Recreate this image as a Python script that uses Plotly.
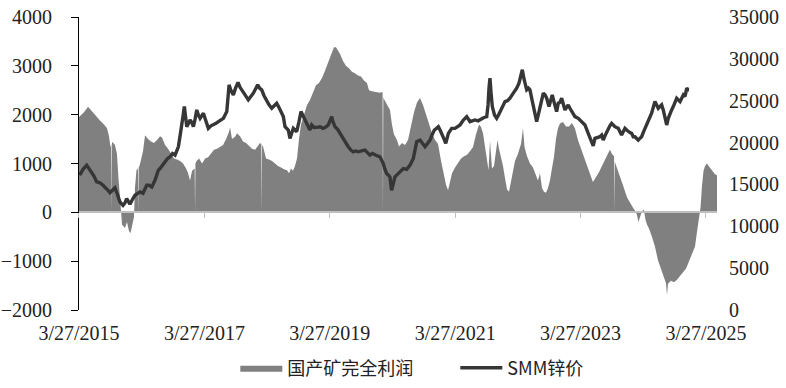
import plotly.graph_objects as go
from datetime import datetime

# ---- data (dates as decimal years) ----
profit_t = [2015.233, 2015.313, 2015.377, 2015.440, 2015.504, 2015.568, 2015.632, 2015.680, 2015.712, 2015.735,
            2015.749, 2015.755, 2015.761, 2015.767, 2015.807, 2015.839, 2015.863, 2015.887, 2015.903, 2015.919,
            2015.967, 2015.999, 2016.031, 2016.054, 2016.078, 2016.110, 2016.126, 2016.150,
            2016.173, 2016.179, 2016.185, 2016.198, 2016.222, 2016.254, 2016.286, 2016.334, 2016.381, 2016.429,
            2016.477, 2016.525, 2016.557, 2016.605, 2016.653, 2016.700, 2016.748, 2016.796, 2016.844, 2016.892,
            2016.940, 2016.972, 2017.003, 2017.035, 2017.059,
            2017.077, 2017.083, 2017.089, 2017.107, 2017.147, 2017.195, 2017.243, 2017.291, 2017.338, 2017.386,
            2017.434, 2017.482, 2017.530, 2017.578, 2017.626, 2017.641, 2017.673, 2017.721, 2017.753, 2017.801,
            2017.849, 2017.897, 2017.945, 2017.992, 2018.040, 2018.088, 2018.120,
            2018.141, 2018.147, 2018.153, 2018.168, 2018.216, 2018.264, 2018.311, 2018.359, 2018.407, 2018.455,
            2018.503, 2018.551, 2018.583, 2018.614, 2018.646, 2018.678, 2018.710, 2018.742, 2018.774, 2018.822,
            2018.870, 2018.917, 2018.965, 2019.013, 2019.061, 2019.109, 2019.157, 2019.205, 2019.252, 2019.300,
            2019.332, 2019.364, 2019.396, 2019.444, 2019.492, 2019.540, 2019.587, 2019.635, 2019.683, 2019.731,
            2019.779, 2019.827, 2019.859, 2019.906, 2019.970, 2020.034, 2020.058,
            2020.076, 2020.082, 2020.088, 2020.106, 2020.146, 2020.193, 2020.225, 2020.257, 2020.305, 2020.337,
            2020.385, 2020.433, 2020.481, 2020.528, 2020.576, 2020.624, 2020.672, 2020.720, 2020.768, 2020.816,
            2020.863, 2020.911, 2020.959, 2021.007, 2021.055, 2021.087, 2021.119, 2021.150, 2021.182, 2021.230,
            2021.278, 2021.326, 2021.374, 2021.422, 2021.469, 2021.517, 2021.565, 2021.613, 2021.645, 2021.677,
            2021.709, 2021.741, 2021.765, 2021.788, 2021.820, 2021.852, 2021.884, 2021.908, 2021.932, 2021.964,
            2021.996, 2022.028, 2022.060, 2022.092, 2022.123, 2022.155, 2022.187, 2022.235, 2022.283, 2022.315,
            2022.339, 2022.379, 2022.426, 2022.474, 2022.522, 2022.554, 2022.586, 2022.618, 2022.650, 2022.682,
            2022.714, 2022.745, 2022.777, 2022.809, 2022.841, 2022.873, 2022.905, 2022.953, 2023.001, 2023.049,
            2023.096, 2023.144, 2023.192, 2023.240, 2023.288, 2023.336, 2023.384, 2023.431, 2023.479, 2023.527,
            2023.575, 2023.623, 2023.671, 2023.702, 2023.734, 2023.758,
            2023.768, 2023.774, 2023.780, 2023.790, 2023.830, 2023.878, 2023.926, 2023.974, 2024.021, 2024.069,
            2024.101, 2024.133, 2024.157, 2024.181, 2024.213, 2024.245, 2024.269, 2024.293, 2024.325, 2024.372,
            2024.420, 2024.468, 2024.516, 2024.564, 2024.596, 2024.612, 2024.628, 2024.675, 2024.723, 2024.771,
            2024.819, 2024.867, 2024.915, 2024.963, 2025.010, 2025.058, 2025.090, 2025.122, 2025.146, 2025.170,
            2025.194, 2025.218, 2025.250, 2025.282, 2025.313, 2025.345, 2025.377, 2025.409]
profit_v = [1950, 2050, 2160, 2060, 1980, 1880, 1800, 1720, 1560, 1340,
            1400, 0, 1440, 1440, 1380, 1200, 700, 400, 50, -250,
            -320, -200, -380, -430, -250, -100, 500, 860,
            900, 0, 920, 950, 1070, 1250, 1580, 1500, 1450, 1420,
            1480, 1560, 1530, 1380, 1300, 1200, 1100, 1080, 1050, 1000,
            900, 800, 650, 850, 880,
            900, 0, 1000, 1050, 1100, 1000, 1100, 1130, 1200, 1280,
            1300, 1340, 1380, 1500, 1650, 1740, 1500, 1550, 1620, 1560,
            1450, 1420, 1350, 1300, 1280, 1380, 1420,
            1400, 0, 1380, 1350, 1100, 1080, 1050, 1000, 950, 920,
            880, 860, 800, 900, 850, 950, 1100, 1500, 1800, 2000,
            2200, 2300, 2450, 2600, 2650, 2750, 2900, 3050, 3200, 3380,
            3380, 3320, 3250, 3100, 3000, 2950, 2880, 2850, 2800, 2780,
            2700, 2650, 2500, 2480, 2460, 2450, 2460,
            2460, 0, 2350, 2300, 2200, 2100, 1800, 1600, 1480, 1350,
            1420, 1380, 1480, 1750, 2050, 2250, 2340, 2200, 2000, 1850,
            1620, 1480, 1400, 1050, 750, 560, 450, 600, 800, 920,
            1000, 1100, 1150, 1180, 1250, 1340, 1600, 1800, 1750, 1620,
            1340, 1050, 860, 1470, 900, 950, 1200, 1480, 1300, 1130,
            950, 700, 470, 420, 650, 820, 1050, 1200, 1400, 1720,
            1340, 1150, 1000, 920, 750, 650, 800, 500, 420, 400,
            500, 650, 900, 1130, 1500, 1720, 1820, 1850, 1760, 1760,
            1830, 1720, 1480, 1300, 1130, 950, 800, 620, 720, 820,
            950, 1070, 1200, 1280, 1200, 1170,
            1150, 0, 1050, 1000, 850, 650, 500, 310, 190, 100,
            40, -50, -200, -100, 20, 60, -150, -250, -330, -500,
            -700, -980, -1150, -1350, -1450, -1700, -1460, -1400, -1430, -1380,
            -1300, -1220, -1150, -1000, -850, -700, -400, -150, 100, 550,
            850, 950, 1000, 940, 880, 820, 780, 760]

price_t = [2015.244, 2015.297, 2015.356, 2015.393, 2015.436, 2015.472, 2015.515, 2015.568, 2015.616, 2015.648,
           2015.696, 2015.727, 2015.759, 2015.807, 2015.847, 2015.887, 2015.935, 2015.967, 2015.994, 2016.023,
           2016.046, 2016.086, 2016.126, 2016.166, 2016.206, 2016.254, 2016.313, 2016.350, 2016.393, 2016.445,
           2016.498, 2016.525, 2016.565, 2016.605, 2016.645, 2016.684, 2016.724, 2016.764, 2016.817, 2016.844,
           2016.871, 2016.892, 2016.912, 2016.932, 2016.951, 2016.980, 2017.003, 2017.031, 2017.056, 2017.083,
           2017.110, 2017.136, 2017.163, 2017.190, 2017.216, 2017.251, 2017.295, 2017.338, 2017.375, 2017.418,
           2017.455, 2017.498, 2017.535, 2017.562, 2017.589, 2017.610, 2017.626, 2017.657, 2017.694, 2017.729,
           2017.769, 2017.801, 2017.841, 2017.881, 2017.933, 2017.976, 2018.013, 2018.048, 2018.083, 2018.112,
           2018.147, 2018.184, 2018.227, 2018.264, 2018.307, 2018.343, 2018.386, 2018.415, 2018.439, 2018.471,
           2018.492, 2018.519, 2018.551, 2018.571, 2018.598, 2018.622, 2018.651, 2018.678, 2018.705, 2018.742,
           2018.774, 2018.806, 2018.838, 2018.870, 2018.890, 2018.917, 2018.945, 2018.981, 2019.024, 2019.077,
           2019.125, 2019.157, 2019.209, 2019.236, 2019.264, 2019.284, 2019.316, 2019.356, 2019.396, 2019.449,
           2019.492, 2019.528, 2019.571, 2019.608, 2019.651, 2019.688, 2019.739, 2019.795, 2019.835, 2019.874,
           2019.914, 2019.954, 2019.994, 2020.034, 2020.087, 2020.114, 2020.141, 2020.170, 2020.193, 2020.220,
           2020.249, 2020.273, 2020.313, 2020.353, 2020.406, 2020.460, 2020.513, 2020.565, 2020.592, 2020.619,
           2020.672, 2020.712, 2020.752, 2020.791, 2020.831, 2020.863, 2020.900, 2020.935, 2020.964, 2020.991,
           2021.018, 2021.050, 2021.082, 2021.103, 2021.124, 2021.150, 2021.177, 2021.230, 2021.270, 2021.310,
           2021.363, 2021.417, 2021.469, 2021.509, 2021.549, 2021.597, 2021.656, 2021.693, 2021.736, 2021.757,
           2021.772, 2021.788, 2021.804, 2021.825, 2021.860, 2021.895, 2021.924, 2021.948, 2021.988, 2022.028,
           2022.067, 2022.107, 2022.160, 2022.214, 2022.251, 2022.283, 2022.304, 2022.331, 2022.374, 2022.402,
           2022.426, 2022.453, 2022.479, 2022.506, 2022.533, 2022.559, 2022.586, 2022.613, 2022.639, 2022.666,
           2022.693, 2022.730, 2022.757, 2022.782, 2022.809, 2022.852, 2022.878, 2022.905, 2022.932, 2022.958,
           2022.985, 2023.011, 2023.037, 2023.064, 2023.091, 2023.117, 2023.144, 2023.197, 2023.251, 2023.304,
           2023.356, 2023.384, 2023.411, 2023.436, 2023.463, 2023.503, 2023.543, 2023.570, 2023.596, 2023.623,
           2023.650, 2023.678, 2023.702, 2023.730, 2023.755, 2023.782, 2023.835, 2023.862, 2023.889, 2023.915,
           2023.942, 2023.969, 2023.994, 2024.021, 2024.049, 2024.074, 2024.101, 2024.128, 2024.154, 2024.181,
           2024.208, 2024.233, 2024.261, 2024.287, 2024.313, 2024.340, 2024.367, 2024.393, 2024.420, 2024.447,
           2024.473, 2024.500, 2024.527, 2024.552, 2024.580, 2024.607, 2024.632, 2024.660, 2024.686, 2024.712,
           2024.739, 2024.766, 2024.792, 2024.819, 2024.846, 2024.872, 2024.899, 2024.926, 2024.947, 2024.963]
price_v = [16100, 16800, 17300, 16900, 16400, 16000, 15300, 15200, 14900, 14700,
           14300, 14000, 14300, 14600, 13800, 12900, 12500, 12800, 13300, 12900,
           12650, 13200, 13700, 13900, 14100, 13950, 14900, 14900, 14700, 15500,
           16700, 16900, 17300, 17700, 18100, 18300, 18700, 18500, 19500, 20800,
           21900, 23200, 24300, 23000, 21900, 22300, 22700, 22400, 21900, 22800,
           23900, 23300, 22900, 23200, 23500, 22700, 21700, 22000, 22100, 22300,
           22500, 22700, 22900, 23300, 23700, 25500, 26900, 26200, 25700, 26500,
           27200, 26600, 26200, 25700, 25100, 25500, 25900, 26400, 26900, 26500,
           26300, 25600, 24900, 24500, 24100, 24400, 24700, 24300, 23900, 23500,
           23100, 21900, 21700, 21500, 20500, 21000, 21700, 21500, 21300, 22500,
           23700, 23200, 22700, 22100, 21700, 21500, 22100, 21800, 21820, 21890,
           21700, 21800, 22100, 22600, 23100, 22500, 21900, 21600, 21100, 20300,
           19800, 19500, 19100, 18900, 19000, 18900, 19000, 19100, 18800, 18500,
           18700, 18500, 18400, 18300, 17500, 16800, 16300, 16100, 15900, 14300,
           15300, 15900, 16200, 16500, 16900, 16800, 17300, 18100, 19300, 20100,
           20300, 19900, 19500, 19900, 20300, 20900, 21500, 21700, 21900, 21500,
           21100, 20500, 19900, 20500, 21100, 21400, 21700, 21700, 21900, 22100,
           22700, 23100, 22500, 22600, 22700, 22600, 22900, 23000, 23100, 24500,
           26500, 27700, 26000, 24300, 23300, 22900, 23300, 23700, 24300, 24900,
           25000, 25300, 25900, 26500, 27100, 28200, 28700, 27600, 26300, 26500,
           26300, 25300, 24300, 23300, 22500, 23300, 24300, 25100, 25900, 25700,
           25300, 24300, 25000, 25700, 24900, 23700, 24700, 24800, 25300, 24600,
           23900, 24200, 24500, 24100, 23700, 23400, 23100, 22900, 22500, 22100,
           21100, 20500, 19900, 19600, 20500, 20600, 20700, 20900, 20300, 20800,
           21300, 21700, 22000, 22300, 22100, 21900, 21700, 21300, 20900, 21300,
           21700, 21500, 21300, 21200, 21100, 20700, 20700, 20500, 20300, 20500,
           20700, 21200, 21700, 22100, 22500, 23000, 23500, 24200, 24900, 24500,
           24100, 24300, 24500, 23900, 23000, 22100, 22900, 23500, 23900, 24300,
           24800, 25300, 25100, 24900, 25300, 25700, 25500, 26500, 26300, 26300]

tick_dates = ["2015-03-27", "2017-03-27", "2019-03-27", "2021-03-27", "2023-03-27", "2025-03-27"]
tick_labels = ["3/27/2015", "3/27/2017", "3/27/2019", "3/27/2021", "3/27/2023", "3/27/2025"]
series_names = ["国产矿完全利润", "SMM锌价"]


def yr_to_date(t):
    y = int(t)
    a = datetime(y, 1, 1)
    b = datetime(y + 1, 1, 1)
    return a + (b - a) * (t - y)


profit_x = [yr_to_date(t) for t in profit_t]
price_x = [yr_to_date(t) for t in price_t]

AREA = "#808080"
LINE = "#363636"
TICKFONT = dict(family="Liberation Serif", size=20, color="#222222")

fig = go.Figure()
fig.add_trace(go.Scatter(
    x=profit_x, y=profit_v, name=series_names[0], mode="lines",
    fill="tozeroy", fillcolor=AREA, line=dict(width=0, color=AREA),
    hoverinfo="skip"))
fig.add_trace(go.Scatter(
    x=price_x, y=price_v, name=series_names[1], mode="lines", yaxis="y2",
    line=dict(width=3.4, color=LINE), hoverinfo="skip"))
# helper trace so the label axis (x2) is rendered
fig.add_trace(go.Scatter(
    x=[profit_x[0]], y=[0], xaxis="x2", mode="markers",
    marker=dict(opacity=0), showlegend=False, hoverinfo="skip"))

x_range = [profit_x[0], profit_x[-1]]

fig.update_layout(
    width=786, height=388,
    margin=dict(l=79, r=69, t=17, b=78, autoexpand=False),
    paper_bgcolor="white", plot_bgcolor="white",
    font=dict(family="Liberation Serif", size=20, color="#222222"),
    showlegend=True,
    legend=dict(orientation="h", x=0.245, xanchor="left", y=-0.135, yanchor="top",
                font=dict(family="Noto Sans CJK SC", size=18, color="#222222"),
                itemwidth=42, entrywidth=163, tracegroupgap=0, bgcolor="rgba(0,0,0,0)"),
    xaxis=dict(type="date", range=x_range, anchor="free", position=1/3,
               showline=True, linecolor="#BFBFBF", linewidth=1.5,
               ticks="outside", ticklen=5, tickcolor="#BFBFBF",
               tickvals=tick_dates, showticklabels=False, showgrid=False, zeroline=False,
               automargin=False),
    xaxis2=dict(type="date", overlaying="x", matches="x", anchor="y", side="bottom",
                showline=False, ticks="", tickvals=tick_dates, ticktext=tick_labels,
                tickfont=TICKFONT, showgrid=False, zeroline=False, ticklabelstandoff=9,
                automargin=False),
    yaxis=dict(range=[-2000, 4000], dtick=1000, showline=True, linecolor="black", linewidth=1,
               ticks="outside", ticklen=7, tickcolor="black", showgrid=False, zeroline=False,
               tickfont=TICKFONT, ticklabelstandoff=15, automargin=False),
    yaxis2=dict(range=[0, 35000], dtick=5000, tickformat="d", overlaying="y", side="right",
                showline=False, ticks="", showgrid=False, zeroline=False, tickfont=TICKFONT,
                ticklabelstandoff=11, automargin=False),
)

fig.write_html("out.html")
